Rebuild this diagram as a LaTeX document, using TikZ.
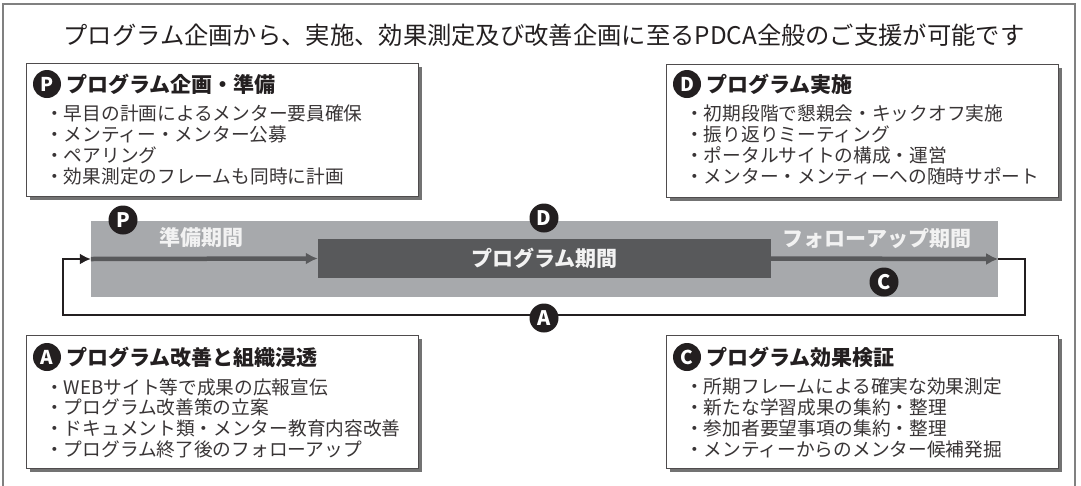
\documentclass[tikz,border=0pt]{standalone}
\usepackage{fontspec}
\setmainfont{Noto Sans CJK JP}
\usepackage{tikz}
\usetikzlibrary{arrows.meta,shadows}
\definecolor{grisclair}{HTML}{A7A9AC}
\definecolor{grisfonce}{HTML}{58595B}
\definecolor{encre}{HTML}{231F20}

\begin{document}
\begin{tikzpicture}[x=1pt, y=-1pt]
	\tikzset{boite/.style={rectangle, draw=encre!80, line width=0.9pt, fill=white, minimum width=392pt, minimum height=133pt, drop shadow={shadow xshift=3.5pt, shadow yshift=-3.5pt, fill=black!55, opacity=1}},
		pastille/.style={circle, fill=encre, text=white, inner sep=0pt, minimum size=29pt, font=\fontsize{20}{20}\selectfont\bfseries},
		petite/.style={pastille, minimum size=28pt, font=\fontsize{19}{19}\selectfont\bfseries},
		entete/.style={anchor=west, inner sep=0pt, text=encre, font=\fontsize{21}{21}\selectfont\bfseries},
		liste/.style={anchor=north west, inner sep=0pt, align=left, text=encre!90, font=\fontsize{18.7}{20.7}\selectfont},
		periode/.style={inner sep=0pt, text=white!95!black, font=\fontsize{21}{21}\selectfont\bfseries},
		fleche/.style={>={Latex[length=12pt, width=12pt]}, ->, grisfonce, line width=4.5pt},
		retour/.style={>={Latex[length=11pt, width=11pt]}, ->, encre, line width=2pt}};

	\useasboundingbox (0,0) rectangle (1081,485);
	\draw[black!50, line width=1.3pt] (3,4) rectangle (1075,500);

	\node[text=encre, font=\fontsize{24.3}{24.3}\selectfont] (titre) at (544, 35) {プログラム企画から、実施、効果測定及び改善企画に至るPDCA全般のご支援が可能です};

	\node[boite] (bP) at (222, 130) {};
	\node[boite] (bD) at (862, 131) {};
	\node[boite] (bA) at (222, 402) {};
	\node[boite] (bC) at (862, 402) {};

	\node[petite] (iP) at ( 47,  84) {P};
	\node[entete] (tP) at ( 66,  84) {プログラム企画・準備};
	\node[liste]  (lP) at ( 45, 105) {・早目の計画によるメンター要員確保\\・メンティー・メンター公募\\・ペアリング\\・効果測定のフレームも同時に計画};

	\node[petite] (iD) at (687,  84) {D};
	\node[entete] (tD) at (706,  84) {プログラム実施};
	\node[liste]  (lD) at (685, 105) {・初期段階で懇親会・キックオフ実施\\・振り返りミーティング\\・ポータルサイトの構成・運営\\・メンター・メンティーへの随時サポート};

	\node[petite] (iA) at ( 47, 357) {A};
	\node[entete] (tA) at ( 66, 357) {プログラム改善と組織浸透};
	\node[liste]  (lA) at ( 45, 378) {・WEBサイト等で成果の広報宣伝\\・プログラム改善策の立案\\・ドキュメント類・メンター教育内容改善\\・プログラム終了後のフォローアップ};

	\node[petite] (iC) at (687, 357) {C};
	\node[entete] (tC) at (706, 357) {プログラム効果検証};
	\node[liste]  (lC) at (685, 378) {・所期フレームによる確実な効果測定\\・新たな学習成果の集約・整理\\・参加者要望事項の集約・整理\\・メンティーからのメンター候補発掘};

	\node[fill=grisclair, inner sep=0pt, minimum width=907pt, minimum height=76pt] (bande) at (544.5, 259) {};
	\node[fill=grisfonce, periode, minimum width=453pt, minimum height=39pt] (prog) at (544.5, 258.5) {プログラム期間};
	\node[periode] (prep) at (201, 238) {準備期間};
	\node[periode] (suivi) at (877, 238) {フォローアップ期間};

	\coordinate (r1) at (1025, 315);
	\coordinate (r2) at (  63, 315);

	\draw[fleche] (bande.west) to (prog.west);
	\draw[fleche] (prog.east) to (bande.east);
	\draw[retour] (bande.east) -| (r1) -- (r2) |- (bande.west);

	\node[pastille] (pP) at (123, 220) {P};
	\node[pastille] (pD) at (544, 218) {D};
	\node[pastille] (pC) at (884, 282) {C};
	\node[pastille] (pA) at (544, 318) {A};

\end{tikzpicture}
\end{document}
